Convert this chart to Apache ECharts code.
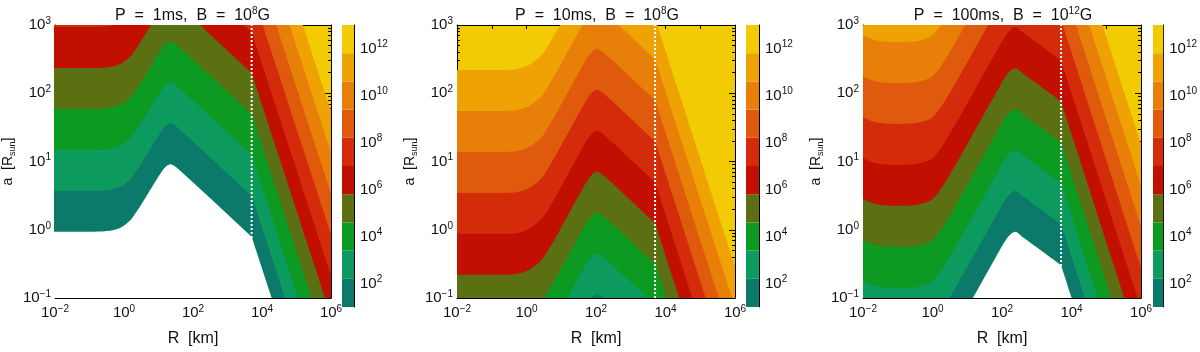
<!DOCTYPE html>
<html>
<head>
<meta charset="utf-8">
<script src="https://cdn.jsdelivr.net/npm/echarts@6/dist/echarts.min.js"></script>
<style>
  html, body { margin: 0; padding: 0; background: #fff; }
  #chart { width: 1200px; height: 352px; }
</style>
</head>
<body>
<div id="chart"></div>
<script>
// panel titles: period, field exponent
const periods = ['1ms', '10ms', '100ms'];
const fieldExp = ['8', '8', '12'];

// colour bar levels (log10), 10 bands
const levels = [1, 2.2, 3.4, 4.6, 5.8, 7.0, 8.2, 9.4, 10.6, 11.8, 13];
const bandColors = ['#0c7a6b', '#0c9a5e', '#0d9a22', '#5b7013', '#c10f02',
                    '#d42c0a', '#df5a0c', '#e77f08', '#eea203', '#f3cb05'];
const colorbarTicks = [2, 4, 6, 8, 10, 12];

// R axis ticks (log10 km), a axis ticks (log10 Rsun)
const rLabels = [-2, 0, 2, 4, 6];
const dividerR = [3.7, 3.7, 3.7];

// contour lines, log10 a at the knots in log10 R; rows are levels[0] .. levels[9]
const knots1 = [-2.2, -1.0, -0.5, -0.1, 0.25, 1.0, 1.2, 1.35, 1.55, 3.65, 3.70, 3.75, 6.3];
const contours1 = [
  [-0.03, -0.03, -0.02, 0.03, 0.18, 0.78, 0.92, 0.96, 0.90, -0.08, -0.10, -0.18, -4.13],
  [0.57, 0.57, 0.58, 0.63, 0.78, 1.38, 1.52, 1.56, 1.50, 0.52, 0.50, 0.42, -3.53],
  [1.17, 1.17, 1.18, 1.23, 1.38, 1.98, 2.12, 2.16, 2.10, 1.12, 1.10, 1.02, -2.93],
  [1.77, 1.77, 1.78, 1.83, 1.98, 2.58, 2.72, 2.76, 2.70, 1.72, 1.70, 1.62, -2.33],
  [2.37, 2.37, 2.38, 2.43, 2.58, 3.18, 3.32, 3.36, 3.30, 2.32, 2.30, 2.22, -1.73],
  [2.97, 2.97, 2.98, 3.03, 3.18, 3.78, 3.92, 3.96, 3.90, 2.92, 2.90, 2.82, -1.13],
  [3.57, 3.57, 3.58, 3.63, 3.78, 4.38, 4.52, 4.56, 4.50, 3.52, 3.50, 3.42, -0.53],
  [4.17, 4.17, 4.18, 4.23, 4.38, 4.98, 5.12, 5.16, 5.10, 4.12, 4.10, 4.02, 0.07],
  [4.77, 4.77, 4.78, 4.83, 4.98, 5.58, 5.72, 5.76, 5.70, 4.72, 4.70, 4.62, 0.67],
  [5.37, 5.37, 5.38, 5.43, 5.58, 6.18, 6.32, 6.36, 6.30, 5.32, 5.30, 5.22, 1.27]
];

const knots2 = [-2.2, -0.8, -0.3, 0.1, 0.5, 1.5, 1.8, 2.02, 2.3, 3.65, 3.70, 3.75, 6.5];
const contours2 = [
  [-3.06, -3.06, -3.05, -2.98, -2.80, -1.90, -1.64, -1.55, -1.64, -2.28, -2.30, -2.38, -6.72],
  [-2.46, -2.46, -2.45, -2.38, -2.20, -1.30, -1.04, -0.95, -1.04, -1.68, -1.70, -1.78, -6.12],
  [-1.86, -1.86, -1.85, -1.78, -1.60, -0.70, -0.44, -0.35, -0.44, -1.08, -1.10, -1.18, -5.52],
  [-1.26, -1.26, -1.25, -1.18, -1.00, -0.10, 0.16, 0.25, 0.16, -0.48, -0.50, -0.58, -4.92],
  [-0.66, -0.66, -0.65, -0.58, -0.40, 0.50, 0.76, 0.85, 0.76, 0.12, 0.10, 0.02, -4.32],
  [-0.06, -0.06, -0.05, 0.02, 0.20, 1.10, 1.36, 1.45, 1.36, 0.72, 0.70, 0.62, -3.72],
  [0.54, 0.54, 0.55, 0.62, 0.80, 1.70, 1.96, 2.05, 1.96, 1.32, 1.30, 1.22, -3.12],
  [1.14, 1.14, 1.15, 1.22, 1.40, 2.30, 2.56, 2.65, 2.56, 1.92, 1.90, 1.82, -2.52],
  [1.74, 1.74, 1.75, 1.82, 2.00, 2.90, 3.16, 3.25, 3.16, 2.52, 2.50, 2.42, -1.92],
  [2.34, 2.34, 2.35, 2.42, 2.60, 3.50, 3.76, 3.85, 3.76, 3.12, 3.10, 3.02, -1.32]
];

const knots3 = [-2.0, -1.6, -0.9, -0.4, 0.0, 0.4, 1.8, 2.15, 2.38, 2.6, 3.65, 3.70, 3.75, 6.5];
const contours3 = [
  [-1.95, -2.03, -2.05, -2.03, -1.95, -1.68, -0.42, -0.12, -0.03, -0.11, -0.50, -0.52, -0.60, -4.94],
  [-1.35, -1.43, -1.45, -1.43, -1.35, -1.08, 0.18, 0.48, 0.57, 0.49, 0.10, 0.08, 0.00, -4.34],
  [-0.75, -0.83, -0.85, -0.83, -0.75, -0.48, 0.78, 1.08, 1.17, 1.09, 0.70, 0.68, 0.60, -3.74],
  [-0.15, -0.23, -0.25, -0.23, -0.15, 0.12, 1.38, 1.68, 1.77, 1.69, 1.30, 1.28, 1.20, -3.14],
  [0.45, 0.37, 0.35, 0.37, 0.45, 0.72, 1.98, 2.28, 2.37, 2.29, 1.90, 1.88, 1.80, -2.54],
  [1.05, 0.97, 0.95, 0.97, 1.05, 1.32, 2.58, 2.88, 2.97, 2.89, 2.50, 2.48, 2.40, -1.94],
  [1.65, 1.57, 1.55, 1.57, 1.65, 1.92, 3.18, 3.48, 3.57, 3.49, 3.10, 3.08, 3.00, -1.34],
  [2.25, 2.17, 2.15, 2.17, 2.25, 2.52, 3.78, 4.08, 4.17, 4.09, 3.70, 3.68, 3.60, -0.74],
  [2.85, 2.77, 2.75, 2.77, 2.85, 3.12, 4.38, 4.68, 4.77, 4.69, 4.30, 4.28, 4.20, -0.14],
  [3.45, 3.37, 3.35, 3.37, 3.45, 3.72, 4.98, 5.28, 5.37, 5.29, 4.90, 4.88, 4.80, 0.46]
];

const knots = [knots1, knots2, knots3];
const contours = [contours1, contours2, contours3];

const FONT = "'Liberation Sans', Arial, Helvetica, sans-serif";
const INK = '#111';
// below the lowest level is white, above the top level stays yellow
const fills = ['#ffffff'].concat(bandColors.slice(0, 9));

const plotBoxes = [{ left: 52, width: 279 }, { left: 457, width: 278 }, { left: 863, width: 278 }];
const barBoxes = [{ left: 342, width: 12 }, { left: 746, width: 13 }, { left: 1153, width: 13 }];
const TOP = 25, HEIGHT = 282;

const rich = {
  b: { fontSize: 15, lineHeight: 18, color: INK, fontFamily: FONT },
  s: { fontSize: 10, lineHeight: 10, verticalAlign: 'top', color: INK, fontFamily: FONT }
};
function pow10(v) {
  const e = Math.round(v);
  return '{b|10}{s|' + (e < 0 ? '\u2212' + (-e) : String(e)) + '}';
}

// minor ticks at 2..9 inside each decade of a
const minorA = [];
for (let n = -1; n < 3; n++) {
  for (let m = 2; m < 10; m++) minorA.push(n + Math.log10(m));
}

const grid = [], xAxis = [], yAxis = [], series = [], title = [];
const black = { color: '#000', width: 1 };

for (let p = 0; p < 3; p++) {
  const gPlot = grid.length;
  grid.push({ left: plotBoxes[p].left, width: plotBoxes[p].width, top: TOP, height: HEIGHT,
    show: true, backgroundColor: bandColors[9], borderWidth: 0 });
  const gBar = grid.length;
  grid.push({ left: barBoxes[p].left, width: barBoxes[p].width, top: TOP, height: HEIGHT });

  const xi = xAxis.length;
  xAxis.push({
    type: 'value', gridIndex: gPlot, min: -2, max: 6, interval: 1, position: 'bottom',
    axisLine: { show: true, onZero: false, lineStyle: black },
    axisTick: { show: true, inside: true, length: 4, lineStyle: black },
    axisLabel: { customValues: rLabels, formatter: pow10, rich: rich, margin: 6 },
    splitLine: { show: false },
    name: 'R  [km]', nameLocation: 'middle', nameGap: 33,
    nameTextStyle: { fontSize: 16, color: INK, fontFamily: FONT }
  });
  xAxis.push({
    type: 'value', gridIndex: gPlot, min: -2, max: 6, interval: 1, position: 'top',
    axisLine: { show: true, onZero: false, lineStyle: black },
    axisTick: { show: true, inside: true, length: 4, lineStyle: black },
    axisLabel: { show: false }, splitLine: { show: false }
  });
  xAxis.push({ type: 'value', gridIndex: gBar, min: 0, max: 1, show: false });

  const yi = yAxis.length;
  ['left', 'right'].forEach(function (side) {
    yAxis.push({
      type: 'value', gridIndex: gPlot, min: -1, max: 3, interval: 1, position: side,
      axisLine: { show: true, onZero: false, lineStyle: black },
      axisTick: { show: true, inside: true, length: 6, lineStyle: black },
      axisLabel: { show: side === 'left', formatter: pow10, rich: rich, margin: 4 },
      splitLine: { show: false },
      name: side === 'left' ? '{n|a  [R}{u|sun}{n|]}' : '',
      nameLocation: 'middle', nameGap: 38, nameRotate: 90,
      nameTextStyle: { rich: {
        n: { fontSize: 14, lineHeight: 18, color: INK, fontFamily: FONT },
        u: { fontSize: 9, lineHeight: 10, verticalAlign: 'bottom', color: INK, fontFamily: FONT }
      } }
    });
    yAxis.push({
      type: 'value', gridIndex: gPlot, min: -1, max: 3, position: side,
      axisLine: { show: false, onZero: false },
      axisTick: { show: true, inside: true, length: 3, customValues: minorA, lineStyle: black },
      axisLabel: { show: false }, splitLine: { show: false }
    });
  });
  const yb = yAxis.length;
  yAxis.push({
    type: 'value', gridIndex: gBar, min: 1, max: 13, interval: 1, position: 'right',
    axisLine: { show: true, onZero: false, lineStyle: black },
    axisTick: { show: false },
    axisLabel: { customValues: colorbarTicks, formatter: pow10, rich: rich, margin: 6 },
    splitLine: { show: false }
  });

  // filled contours, painted from the highest level down
  for (let k = 9; k >= 0; k--) {
    series.push({
      type: 'line', xAxisIndex: xi, yAxisIndex: yi,
      data: knots[p].map(function (r, j) { return [r, contours[p][k][j]]; }),
      smooth: 0.3, symbol: 'none', silent: true,
      lineStyle: { width: 0 },
      areaStyle: { color: fills[k], opacity: 1, origin: 'start' }
    });
  }
  series.push({
    type: 'line', xAxisIndex: xi, yAxisIndex: yi, symbol: 'none', silent: true,
    data: [[dividerR[p], -1], [dividerR[p], 3]],
    lineStyle: { color: '#fff', width: 2, type: [2, 2] }
  });

  series.push({
    type: 'custom', xAxisIndex: xi + 2, yAxisIndex: yb, silent: true,
    data: bandColors.map(function (c, b) { return [levels[b], levels[b + 1], b]; }),
    renderItem: function (params, api) {
      const a = api.coord([0, api.value(1)]);
      const b = api.coord([1, api.value(0)]);
      return { type: 'rect', shape: { x: a[0], y: a[1], width: b[0] - a[0], height: b[1] - a[1] },
        style: { fill: bandColors[api.value(2)] } };
    }
  });

  title.push({
    text: 'P  =  ' + periods[p] + ',  B  =  10{s|' + fieldExp[p] + '}G',
    left: plotBoxes[p].left + plotBoxes[p].width / 2 - 4, top: 1, textAlign: 'center',
    textStyle: { fontSize: 16, fontWeight: 'normal', color: INK, fontFamily: FONT, lineHeight: 20,
      rich: { s: { fontSize: 10, lineHeight: 12, verticalAlign: 'top', color: INK, fontFamily: FONT } } }
  });
}

const chart = echarts.init(document.getElementById('chart'), null, { renderer: 'canvas' });
chart.setOption({
  animation: false,
  backgroundColor: '#fff',
  title: title,
  grid: grid,
  xAxis: xAxis,
  yAxis: yAxis,
  series: series
});
</script>
</body>
</html>
